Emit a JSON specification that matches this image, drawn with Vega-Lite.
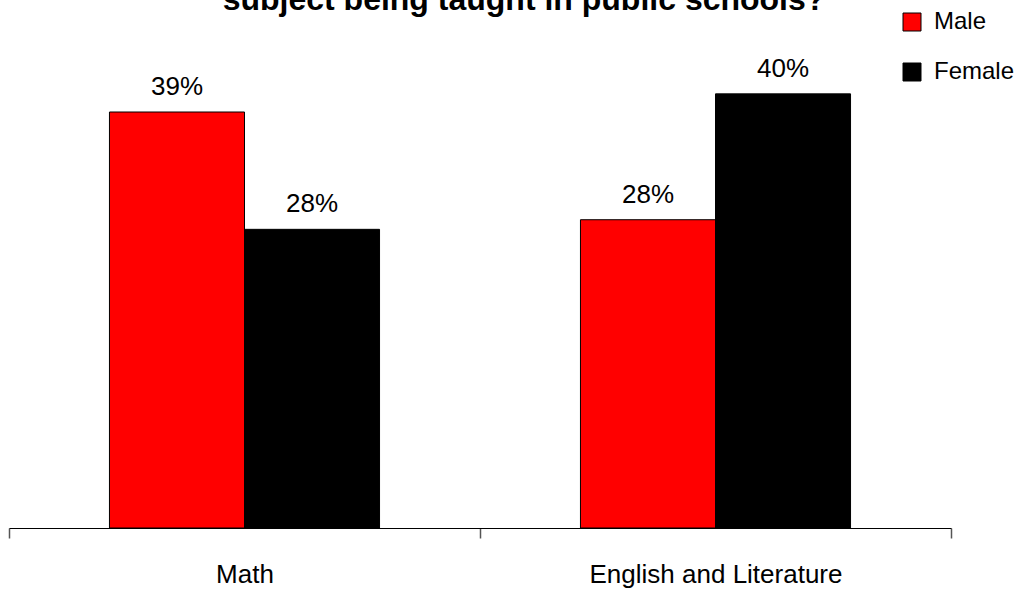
{
  "$schema": "https://vega.github.io/schema/vega-lite/v6.json",
  "width": 942,
  "height": 480,
  "autosize": {"type": "none"},
  "padding": {"left": 9, "top": 48, "right": 80, "bottom": 62},
  "background": "white",
  "config": {
    "view": {"stroke": null},
    "font": "Liberation Sans"
  },
  "title": {
    "text": "subject being taught in public schools?",
    "font": "Liberation Sans",
    "fontSize": 32,
    "fontWeight": "bold",
    "color": "black",
    "anchor": "middle",
    "frame": "group",
    "baseline": "alphabetic",
    "offset": 0,
    "dx": 44,
    "dy": 32
  },
  "data": {
    "values": [
      {"subject": "Math", "gender": "Male", "value": 39.0, "label": "39%"},
      {"subject": "Math", "gender": "Female", "value": 28.0, "label": "28%"},
      {"subject": "English and Literature", "gender": "Male", "value": 28.9, "label": "28%"},
      {"subject": "English and Literature", "gender": "Female", "value": 40.7, "label": "40%"}
    ]
  },
  "encoding": {
    "x": {
      "field": "subject",
      "type": "nominal",
      "sort": ["Math", "English and Literature"],
      "scale": {"paddingInner": 0, "paddingOuter": 0},
      "axis": {
        "title": null,
        "labelAngle": 0,
        "labelFont": "Liberation Sans",
        "labelFontSize": 26,
        "labelColor": "black",
        "labelBaseline": "alphabetic",
        "labelPadding": 44,
        "labelLimit": 0,
        "tickBand": "extent",
        "tickSize": 10,
        "tickColor": "#555555",
        "tickWidth": 1.5,
        "domainColor": "black",
        "domainWidth": 1,
        "grid": false
      }
    },
    "xOffset": {
      "field": "gender",
      "type": "nominal",
      "sort": ["Male", "Female"],
      "scale": {"paddingInner": 0, "paddingOuter": 0.744}
    },
    "y": {
      "field": "value",
      "type": "quantitative",
      "scale": {"domain": [0, 45], "nice": false},
      "axis": null
    }
  },
  "layer": [
    {
      "mark": {"type": "bar", "stroke": "black", "strokeWidth": 1},
      "encoding": {
        "color": {
          "field": "gender",
          "type": "nominal",
          "sort": ["Male", "Female"],
          "scale": {"domain": ["Male", "Female"], "range": ["#FF0000", "#000000"]},
          "legend": {
            "title": null,
            "orient": "none",
            "legendX": 891,
            "legendY": -38,
            "symbolType": "square",
            "symbolSize": 324,
            "symbolStrokeColor": "black",
            "symbolStrokeWidth": 1,
            "symbolOpacity": 1,
            "labelFont": "Liberation Sans",
            "labelFontSize": 24,
            "labelColor": "black",
            "labelOffset": 10,
            "rowPadding": 26
          }
        }
      }
    },
    {
      "mark": {
        "type": "text",
        "baseline": "alphabetic",
        "dy": -17,
        "font": "Liberation Sans",
        "fontSize": 26,
        "color": "black"
      },
      "encoding": {
        "text": {"field": "label"}
      }
    }
  ]
}
